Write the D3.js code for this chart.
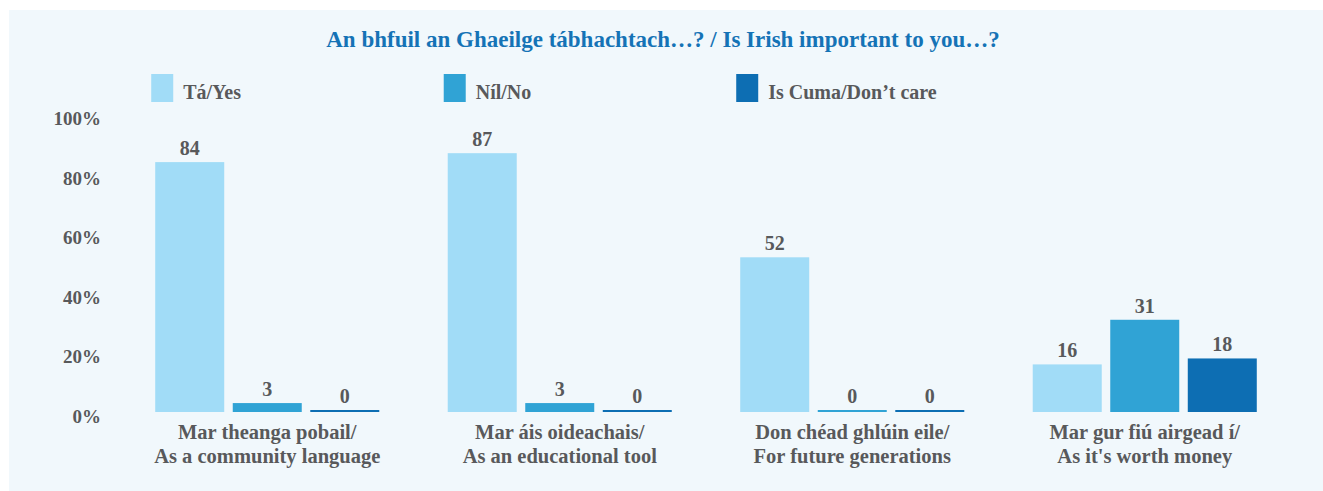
<!DOCTYPE html>
<html><head><meta charset="utf-8">
<script src="https://cdn.jsdelivr.net/npm/d3@7"></script>
<style>
html,body{margin:0;padding:0;background:#fff;}
svg{display:block;}
text{font-family:"Liberation Serif","Times New Roman",serif;font-weight:bold;}
</style></head>
<body>
<script>
const categories = [
  ["Mar theanga pobail/", "As a community language"],
  ["Mar áis oideachais/", "As an educational tool"],
  ["Don chéad ghlúin eile/", "For future generations"],
  ["Mar gur fiú airgead í/", "As it's worth money"]
];
const seriesNames = ["Tá/Yes", "Níl/No", "Is Cuma/Don’t care"];
const yesValues = [84, 87, 52, 16];
const noValues = [3, 3, 0, 31];
const dontCareValues = [0, 0, 0, 18];
const yTicks = [0, 20, 40, 60, 80, 100];
const title = "An bhfuil an Ghaeilge tábhachtach…? / Is Irish important to you…?";
const colors = ["#a1dcf7", "#30a3d5", "#0d6eb3"];

const W = 1323, H = 491;
const svg = d3.select("body").append("svg").attr("width", W).attr("height", H);
svg.append("rect").attr("x", 9).attr("y", 10).attr("width", W - 9).attr("height", H - 10).attr("fill", "#f1f8fc");

const textColor = "#58595b";
const series = [yesValues, noValues, dontCareValues];
const idx = d3.range(categories.length);

const x0 = d3.scaleBand().domain(idx).range([121, 1291]).paddingInner(0.234).paddingOuter(0.117);
const x1 = d3.scaleBand().domain(d3.range(seriesNames.length)).range([0, x0.bandwidth()]).paddingInner(0.11).paddingOuter(0);
const y = d3.scaleLinear().domain([0, 100]).range([412, 114.5]);

// title
svg.append("text").attr("x", 663).attr("y", 47).attr("text-anchor", "middle")
  .attr("fill", "#1573b6").attr("font-size", 23).text(title);

// legend
const leg = svg.append("g");
seriesNames.forEach((n, i) => {
  const lx = x0(i) - 4;
  leg.append("rect").attr("x", lx).attr("y", 74).attr("width", 22).attr("height", 28).attr("fill", colors[i]);
  leg.append("text").attr("x", lx + 32).attr("y", 99).attr("font-size", 20).attr("fill", textColor).text(n);
});

// y axis
const yAxis = d3.axisLeft(y).tickValues(yTicks).tickFormat(d => d + "%").tickSize(0).tickPadding(0);
const ya = svg.append("g").attr("transform", "translate(101,0)").call(yAxis);
ya.select(".domain").remove();
ya.selectAll("text").attr("font-size", 19).attr("fill", textColor)
  .attr("font-family", "Liberation Serif, serif").attr("font-weight", "bold").attr("dy", "0.55em");

// bars
const groups = svg.selectAll("g.grp").data(idx).join("g").attr("class", "grp")
  .attr("transform", d => `translate(${x0(d)},0)`);
groups.each(function(ci) {
  const g = d3.select(this);
  series.forEach((vals, si) => {
    const v = vals[ci];
    const top = Math.min(y(v), y(0) - 2);
    g.append("rect").attr("x", x1(si)).attr("y", top).attr("width", x1.bandwidth())
      .attr("height", y(0) - top).attr("fill", colors[si]);
    g.append("text").attr("x", x1(si) + x1.bandwidth() / 2).attr("y", top - 7)
      .attr("text-anchor", "middle").attr("font-size", 20).attr("fill", textColor).text(v);
  });
  const lab = g.append("text").attr("text-anchor", "middle").attr("font-size", 20.5).attr("fill", textColor);
  categories[ci].forEach((line, li) => {
    lab.append("tspan").attr("x", x0.bandwidth() / 2).attr("y", 439 + li * 24).text(line);
  });
});
</script>
</body></html>
